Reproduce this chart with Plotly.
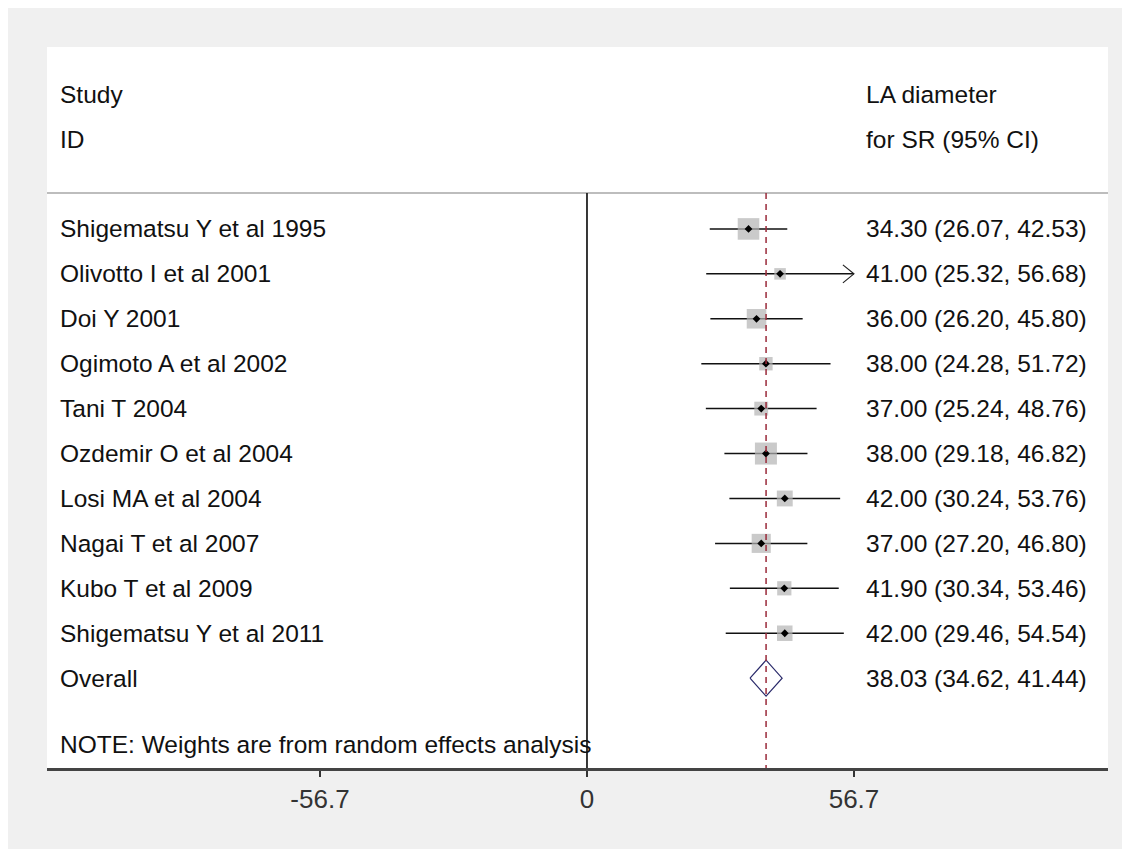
import plotly.graph_objects as go

studies = ["Shigematsu Y et al 1995", "Olivotto I et al 2001", "Doi Y 2001",
           "Ogimoto A et al 2002", "Tani T 2004", "Ozdemir O et al 2004",
           "Losi MA et al 2004", "Nagai T et al 2007", "Kubo T et al 2009",
           "Shigematsu Y et al 2011"]
estimates = [34.30, 41.00, 36.00, 38.00, 37.00, 38.00, 42.00, 37.00, 41.90, 42.00]
ci_low = [26.07, 25.32, 26.20, 24.28, 25.24, 29.18, 30.24, 27.20, 30.34, 29.46]
ci_high = [42.53, 56.68, 45.80, 51.72, 48.76, 46.82, 53.76, 46.80, 53.46, 54.54]
weights = [16.1, 4.6, 13.2, 6.2, 6.6, 16.7, 8.7, 12.6, 7.0, 8.3]
overall_est, overall_low, overall_high = 38.03, 34.62, 41.44
tick_vals = [-56.7, 0, 56.7]
tick_text = ["-56.7", "0", "56.7"]
header_left = ["Study", "ID"]
header_right = ["LA diameter", "for SR (95% CI)"]
note = "NOTE: Weights are from random effects analysis"

W, H = 1130, 849
ML, MR, MT, MB = 39, 30, 39, 89
XR = [-114.67, 110.64]
YR = [13.0, -3.05]
pw, ph = W - ML - MR, H - MT - MB
px_per_x = pw / (XR[1] - XR[0])
px_per_y = ph / (YR[0] - YR[1])

FONT = "Liberation Sans, Arial, sans-serif"
TXT = "#111111"
FS = 24.5

rows = list(range(1, len(studies) + 1))
overall_row = len(studies) + 1
note_row = overall_row + 1.47

fig = go.Figure()

# CI lines
for r, lo, hi in zip(rows, ci_low, ci_high):
    fig.add_trace(go.Scatter(x=[lo, hi], y=[r, r], mode="lines",
                             line=dict(color="#111111", width=1.5),
                             hoverinfo="skip", showlegend=False))

# open chevron where CI reaches the axis limit
for r, hi in zip(rows, ci_high):
    if hi >= tick_vals[-1] - 0.1:
        dx = 11 / px_per_x
        dy = 9 / px_per_y
        fig.add_trace(go.Scatter(x=[hi - dx, hi, hi - dx], y=[r - dy, r, r + dy],
                                 mode="lines", line=dict(color="#222222", width=1.2),
                                 hoverinfo="skip", showlegend=False))

# weight boxes (area proportional to weight)
box_k = 22.0 / (max(weights) ** 0.5)
sizes = [box_k * (w ** 0.5) for w in weights]
fig.add_trace(go.Scatter(x=estimates, y=rows, mode="markers",
                         marker=dict(symbol="square", size=sizes, color="#b3b3b3",
                                     line=dict(width=0)),
                         hoverinfo="skip", showlegend=False))
# point estimates
fig.add_trace(go.Scatter(x=estimates, y=rows, mode="markers",
                         marker=dict(symbol="diamond", size=6, color="#000000"),
                         hoverinfo="skip", showlegend=False))

# overall diamond
h = 18 / px_per_y
fig.add_trace(go.Scatter(
    x=[overall_low, overall_est, overall_high, overall_est, overall_low],
    y=[overall_row, overall_row - h, overall_row, overall_row + h, overall_row],
    mode="lines", fill="toself", fillcolor="white",
    line=dict(color="#2a2a6a", width=1.2), hoverinfo="skip", showlegend=False))

shapes = []
sep_y = 0.2
shapes.append(dict(type="line", xref="paper", yref="y", x0=0, x1=1, y0=sep_y, y1=sep_y,
                   line=dict(color="#bdbdbd", width=2)))
shapes.append(dict(type="line", xref="x", yref="y", x0=0, x1=0, y0=sep_y, y1=YR[0],
                   line=dict(color="#222222", width=1.8)))
shapes.append(dict(type="line", xref="x", yref="y", x0=overall_est, x1=overall_est,
                   y0=sep_y, y1=YR[0],
                   line=dict(color="#9a2a3a", width=1.5, dash="6px,5px")))

annotations = []
left_x = (50 - ML) / pw
right_x = (856 - ML) / pw


def txt(x, y, t):
    annotations.append(dict(x=x, y=y, xref="paper", yref="y", text=t,
                            showarrow=False, xanchor="left", yanchor="middle",
                            font=dict(family=FONT, size=FS, color=TXT)))


for i, t in enumerate(header_left):
    txt(left_x, -2 + i, t)
for i, t in enumerate(header_right):
    txt(right_x, -2 + i, t)
for r, s, e, lo, hi in zip(rows, studies, estimates, ci_low, ci_high):
    txt(left_x, r, s)
    txt(right_x, r, f"{e:.2f} ({lo:.2f}, {hi:.2f})")
txt(left_x, overall_row, "Overall")
txt(right_x, overall_row, f"{overall_est:.2f} ({overall_low:.2f}, {overall_high:.2f})")
txt(left_x, note_row, note)

fig.update_layout(
    width=W, height=H,
    margin=dict(l=ML, r=MR, t=MT, b=MB, pad=0),
    paper_bgcolor="#f0f0f0", plot_bgcolor="white",
    shapes=shapes, annotations=annotations,
    xaxis=dict(range=XR, tickmode="array", tickvals=tick_vals, ticktext=tick_text,
               showgrid=False, zeroline=False, showline=True, linecolor="#444444",
               linewidth=2.5, ticks="outside", ticklen=6, tickwidth=1.5,
               tickcolor="#333333",
               tickfont=dict(family=FONT, size=26, color="#333333")),
    yaxis=dict(range=YR, showgrid=False, zeroline=False, showticklabels=False,
               showline=False, ticks=""),
    showlegend=False,
)

fig.write_html("out.html")
